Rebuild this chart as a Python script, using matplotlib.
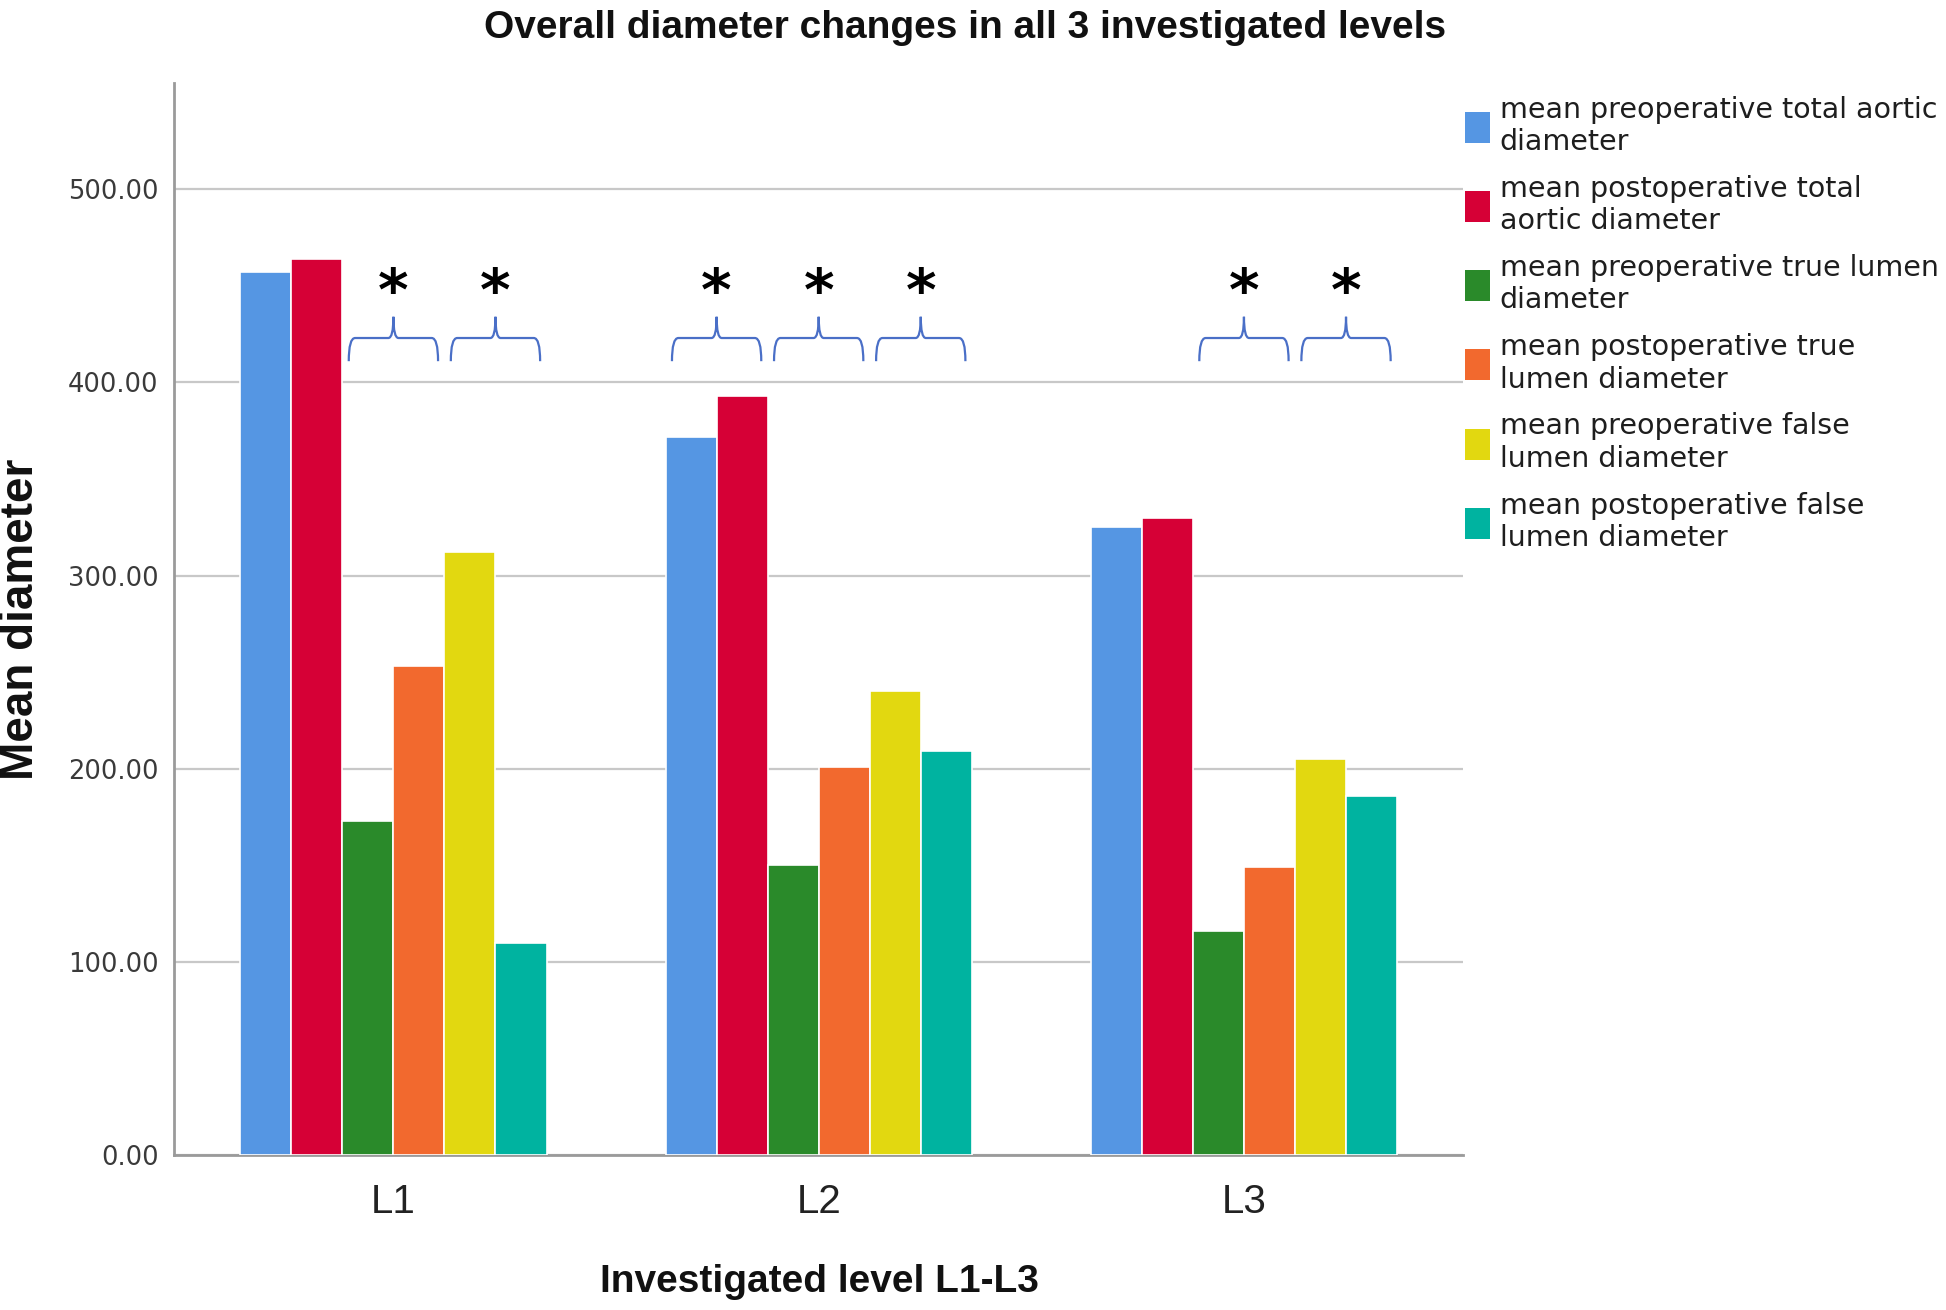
import matplotlib
matplotlib.use("Agg")
import matplotlib.pyplot as plt
import numpy as np
from matplotlib.path import Path
from matplotlib.patches import PathPatch, Patch

levels = ["L1", "L2", "L3"]
series_labels = [
    "mean preoperative total aortic\ndiameter",
    "mean postoperative total\naortic diameter",
    "mean preoperative true lumen\ndiameter",
    "mean postoperative true\nlumen diameter",
    "mean preoperative false\nlumen diameter",
    "mean postoperative false\nlumen diameter",
]
pre_total = [457, 372, 325]
post_total = [464, 393, 330]
pre_true = [173, 150, 116]
post_true = [253, 201, 149]
pre_false = [312, 240, 205]
post_false = [110, 209, 186]
series_values = [pre_total, post_total, pre_true, post_true, pre_false, post_false]
colors = ["#5596e3", "#d60036", "#2a8a2a", "#f2692e", "#e2d810", "#00b3a0"]
# significant pairs (series index pairs) per level
sig_pairs = [[(2, 3), (4, 5)], [(0, 1), (2, 3), (4, 5)], [(2, 3), (4, 5)]]

fig = plt.figure(figsize=(19.46, 13.10), dpi=100)
ax = fig.add_axes([0.0894, 0.1183, 0.6626, 0.8183])

x = np.arange(len(levels))
width = 0.12
for i, (vals, c, lab) in enumerate(zip(series_values, colors, series_labels)):
    ax.bar(x + (i - 2.5) * width, vals, width, color=c, edgecolor="white",
           linewidth=1.2, label=lab, zorder=3)

ax.set_xlim(-0.516, 2.516)
ax.set_ylim(0, 555)
ax.set_yticks(np.arange(0, 501, 100))
ax.set_yticklabels([f"{v:.2f}" for v in np.arange(0, 501, 100)],
                   fontsize=18.5, color="#3a3a3a", family="DejaVu Sans")
ax.set_xticks(x)
ax.set_xticklabels(levels, fontsize=29, family="Liberation Sans", color="#222222")
ax.tick_params(axis="y", length=0, pad=11)
ax.tick_params(axis="x", length=0, pad=20)
ax.yaxis.grid(True, color="#c8c8c8", linewidth=1.6, zorder=0)
ax.set_axisbelow(True)
for s in ["top", "right"]:
    ax.spines[s].set_visible(False)
for s in ["left", "bottom"]:
    ax.spines[s].set_color("#9a9a9a")
    ax.spines[s].set_linewidth(2.0)


def brace(xc, w, yb, ym, yt):
    verts = [
        (xc - w, yb), (xc - w, ym), (xc - w + 0.015, ym),
        (xc - 0.012, ym),
        (xc, ym), (xc, yt),
        (xc, ym), (xc + 0.012, ym),
        (xc + w - 0.015, ym),
        (xc + w, ym), (xc + w, yb),
    ]
    codes = [Path.MOVETO, Path.CURVE3, Path.CURVE3, Path.LINETO,
             Path.CURVE3, Path.CURVE3, Path.CURVE3, Path.CURVE3,
             Path.LINETO, Path.CURVE3, Path.CURVE3]
    ax.add_patch(PathPatch(Path(verts, codes), fill=False, edgecolor="#4a6fc7",
                           linewidth=1.6, zorder=4))


for g, pairs in enumerate(sig_pairs):
    for a, b in pairs:
        xc = g + ((a + b) / 2 - 2.5) * width
        brace(xc, 0.105, 411, 423, 434)
        ax.text(xc, 446, "*", ha="center", va="center", fontsize=42,
                fontweight="bold", family="DejaVu Sans", color="black")

handles = [Patch(facecolor=c, edgecolor="none") for c in colors]
fig.legend(handles, series_labels, loc="upper left", bbox_to_anchor=(0.753, 0.927),
           frameon=False, handlelength=0.85, handleheight=1.3,
           handletextpad=0.35, labelspacing=0.66, borderpad=0, borderaxespad=0,
           labelcolor="#1e1e1e", prop={"family": "DejaVu Sans", "size": 20.5})

fig.text(0.496, 0.979, "Overall diameter changes in all 3 investigated levels",
         ha="center", va="center", fontsize=28, fontweight="bold",
         family="Liberation Sans", color="#111111")
fig.text(0.011, 0.527, "Mean diameter", rotation=90, ha="center", va="center",
         fontsize=33, fontweight="bold", family="Liberation Sans", color="#111111")
fig.text(0.421, 0.0214, "Investigated level L1-L3", ha="center", va="center",
         fontsize=28, fontweight="bold", family="Liberation Sans", color="#111111")

fig.savefig("out.png", dpi=100, facecolor="white")
